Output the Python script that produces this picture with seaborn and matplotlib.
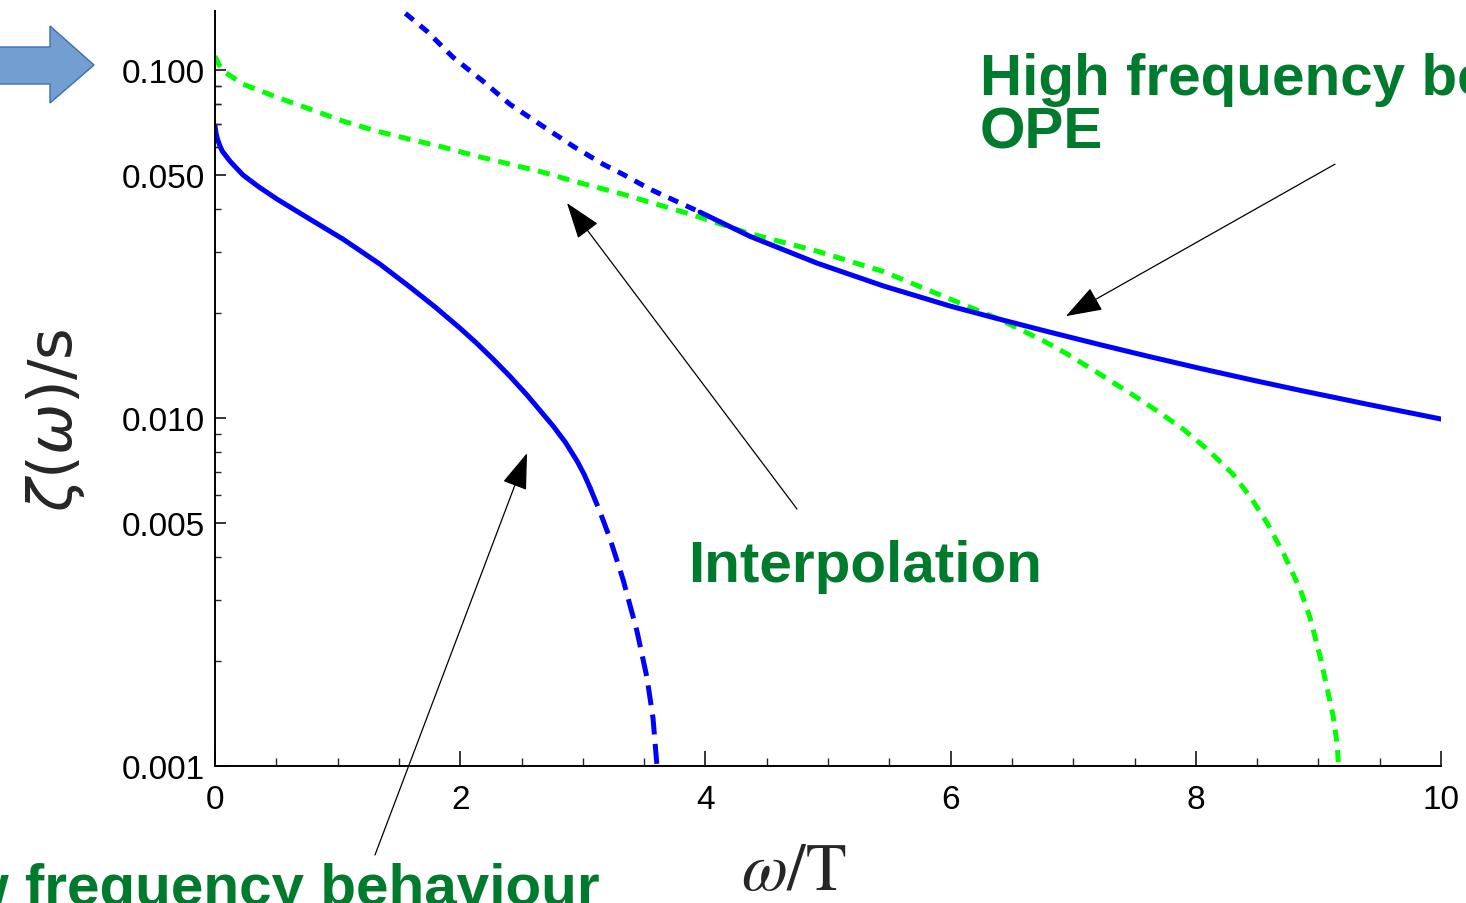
import numpy as np
import pandas as pd
import matplotlib
matplotlib.use("Agg")
import matplotlib.pyplot as plt
import seaborn as sns
from matplotlib.patches import Polygon
from matplotlib.ticker import FixedLocator, NullFormatter

# ---------------- data ----------------
# low-frequency behaviour (solid part)
low_w = [0.0, 0.010, 0.020, 0.041, 0.060, 0.122, 0.160, 0.228, 0.350, 0.506, 0.775, 1.044,
         1.346, 1.591, 1.800, 1.998, 2.130, 2.268, 2.400, 2.545, 2.757, 2.860, 2.953, 3.010, 3.059]
low_v = [0.0690, 0.0655, 0.0634, 0.0605, 0.0585, 0.0548, 0.0530, 0.0500, 0.0464, 0.0426, 0.0373, 0.0327,
         0.0277, 0.0238, 0.0208, 0.01814, 0.01647, 0.01478, 0.01325, 0.01165, 0.00950, 0.00850, 0.00753,
         0.00690, 0.00631]
# low-frequency behaviour (dashed continuation)
low_tail_w = [3.059, 3.140, 3.222, 3.328, 3.442, 3.524, 3.573, 3.605, 3.620]
low_tail_v = [0.00631, 0.00538, 0.00450, 0.00344, 0.00244, 0.00179, 0.00137, 0.00100, 0.00085]

# high-frequency OPE (dotted part)
ope_dot_w = [1.45, 1.533, 1.729, 1.941, 2.186, 2.406, 2.675, 2.920, 3.165, 3.328, 3.548, 3.956]
ope_dot_v = [0.160, 0.1477, 0.1294, 0.1090, 0.0930, 0.0798, 0.0690, 0.0605, 0.0537, 0.0502, 0.0455, 0.0391]
# high-frequency OPE (solid part)
ope_w = [3.956, 4.364, 4.910, 5.449, 5.995, 6.403, 6.811, 7.219, 7.600, 8.034, 8.450, 8.850, 9.400, 10.0]
ope_v = [0.0391, 0.0333, 0.0279, 0.0240, 0.0210, 0.01923, 0.01766, 0.01626, 0.01509, 0.0139, 0.01289,
         0.01202, 0.01096, 0.00994]

# interpolation
interp_w = [0.0, 0.030, 0.082, 0.228, 0.506, 0.775, 1.044, 1.321, 1.591, 1.860, 2.137, 2.406, 2.675,
            2.953, 3.328, 3.874, 4.364, 4.910, 5.449, 5.995, 6.403, 6.754, 6.949, 7.200, 7.488, 7.700,
            7.896, 8.100, 8.303, 8.450, 8.581, 8.720, 8.850, 8.930, 9.013, 9.070, 9.119, 9.152, 9.165, 9.175]
interp_v = [0.1097, 0.1040, 0.0987, 0.0912, 0.0836, 0.0773, 0.0714, 0.0668, 0.0633, 0.0601, 0.0566, 0.0537, 0.0509,
            0.0477, 0.0440, 0.0386, 0.0339, 0.0302, 0.0264, 0.0220, 0.0192, 0.0167, 0.0153, 0.0135, 0.01165, 0.0104,
            0.0093, 0.0081, 0.0069, 0.0059, 0.00500, 0.00405, 0.00323, 0.00268, 0.00207, 0.00168, 0.00140,
            0.00116, 0.00100, 0.00088]

x_ticks = [0, 2, 4, 6, 8, 10]
x_tick_labels = ["0", "2", "4", "6", "8", "10"]
y_ticks = [0.001, 0.005, 0.010, 0.050, 0.100]
y_tick_labels = ["0.001", "0.005", "0.010", "0.050", "0.100"]

label_high = "High frequency behaviour"
label_ope = "OPE"
label_interp = "Interpolation"
label_low = "Low frequency behaviour"

# annotation arrows: (tail, tip) in data coordinates
arrow_low = ((1.305, 0.000555), (2.545, 0.00793))
arrow_interp = ((4.747, 0.00548), (2.871, 0.0415))
arrow_high = ((9.135, 0.0537), (6.941, 0.01964))

# ---------------- style ----------------
sns.set_style("ticks")
plt.rcParams["font.family"] = ["Liberation Sans", "DejaVu Sans"]

W, H = 1466, 904
fig = plt.figure(figsize=(W / 100, H / 100), dpi=100)
ax = fig.add_axes([215 / W, (H - 767) / H, 1226 / W, 755 / H])
ax.set_yscale("log")

BLUE = "#0000ff"
LIME = "#00ff00"
TXT_GREEN = "#007a2c"
LW = 3.6

df_low = pd.DataFrame({"w": low_w, "v": low_v})
df_low_tail = pd.DataFrame({"w": low_tail_w, "v": low_tail_v})
df_ope_dot = pd.DataFrame({"w": ope_dot_w, "v": ope_dot_v})
df_ope = pd.DataFrame({"w": ope_w, "v": ope_v})
df_interp = pd.DataFrame({"w": interp_w, "v": interp_v})

sns.lineplot(data=df_interp, x="w", y="v", ax=ax, color=LIME, linewidth=LW, sort=False,
             errorbar=None, linestyle=(0, (2.4, 1.7)))
sns.lineplot(data=df_ope_dot, x="w", y="v", ax=ax, color=BLUE, linewidth=LW, sort=False,
             errorbar=None, linestyle=(0, (2.1, 1.7)))
sns.lineplot(data=df_ope, x="w", y="v", ax=ax, color=BLUE, linewidth=LW, sort=False,
             errorbar=None)
sns.lineplot(data=df_low, x="w", y="v", ax=ax, color=BLUE, linewidth=LW, sort=False,
             errorbar=None)
sns.lineplot(data=df_low_tail, x="w", y="v", ax=ax, color=BLUE, linewidth=LW, sort=False,
             errorbar=None, linestyle=(0, (4.0, 1.9)))

ax.set_xlim(0, 10)
ax.set_ylim(0.001, 0.148)

ax.set_xticks(x_ticks)
ax.set_xticklabels(x_tick_labels)
ax.xaxis.set_minor_locator(FixedLocator(np.arange(0, 10.01, 0.5)))
ax.set_yticks(y_ticks)
ax.set_yticklabels(y_tick_labels)
y_minor = [m * 10.0 ** e for e in (-3, -2) for m in range(2, 10)] + [0.06, 0.07, 0.08, 0.09]
ax.yaxis.set_minor_locator(FixedLocator(y_minor))
ax.yaxis.set_minor_formatter(NullFormatter())

ax.tick_params(axis="x", which="major", direction="in", length=11, width=1.1, pad=13,
               labelsize=24, colors="black")
ax.tick_params(axis="x", which="minor", direction="in", length=6, width=1.0)
ax.tick_params(axis="y", which="major", direction="in", length=8, width=1.1, pad=7,
               labelsize=24, colors="black")
ax.tick_params(axis="y", which="minor", direction="in", length=4.3, width=1.0)

sns.despine(ax=ax)
for s in ("left", "bottom"):
    ax.spines[s].set_linewidth(1.4)
    ax.spines[s].set_color("black")

ax.set_xlabel(r"$\omega/\mathrm{T}$", fontsize=48, math_fontfamily="stix")
ax.xaxis.set_label_coords(0.472, -0.141)
ax.xaxis.label.set_va("center")
ax.set_ylabel(r"$\zeta(\omega)/\mathrm{s}$", fontsize=44, math_fontfamily="dejavusans")
ax.yaxis.set_label_coords(-0.130, 0.46)
ax.yaxis.label.set_va("center")

# annotation texts
tkw = dict(fontsize=42, fontweight="bold", color=TXT_GREEN, va="baseline")
fig.text(980 / W, 1 - 95 / H, label_high, ha="left", **tkw)
fig.text(980 / W, 1 - 149 / H, label_ope, ha="left", **tkw)
fig.text(688 / W, 1 - 582 / H, label_interp, ha="left", **tkw)
fig.text(600 / W, 1 - 905 / H, label_low, ha="right", **tkw)

# arrows
aprops = dict(arrowstyle="-|>,head_length=1.15,head_width=0.4", mutation_scale=20,
              lw=0.9, color="black", shrinkA=0, shrinkB=0)
for tail, tip in (arrow_low, arrow_interp, arrow_high):
    ax.annotate("", xy=tip, xytext=tail, xycoords="data", textcoords="data",
                arrowprops=aprops, annotation_clip=False)

# big block arrow at top-left (figure decoration)
pts_px = [(-5, 48), (50, 48), (50, 27), (94, 66), (50, 104), (50, 85), (-5, 85)]
pts = [(x / W, 1 - y / H) for x, y in pts_px]
fig.add_artist(Polygon(pts, closed=True, facecolor="#729fcf", edgecolor="#3c6eb4",
                       linewidth=1.0, transform=fig.transFigure))

fig.savefig("out.png", dpi=100)
